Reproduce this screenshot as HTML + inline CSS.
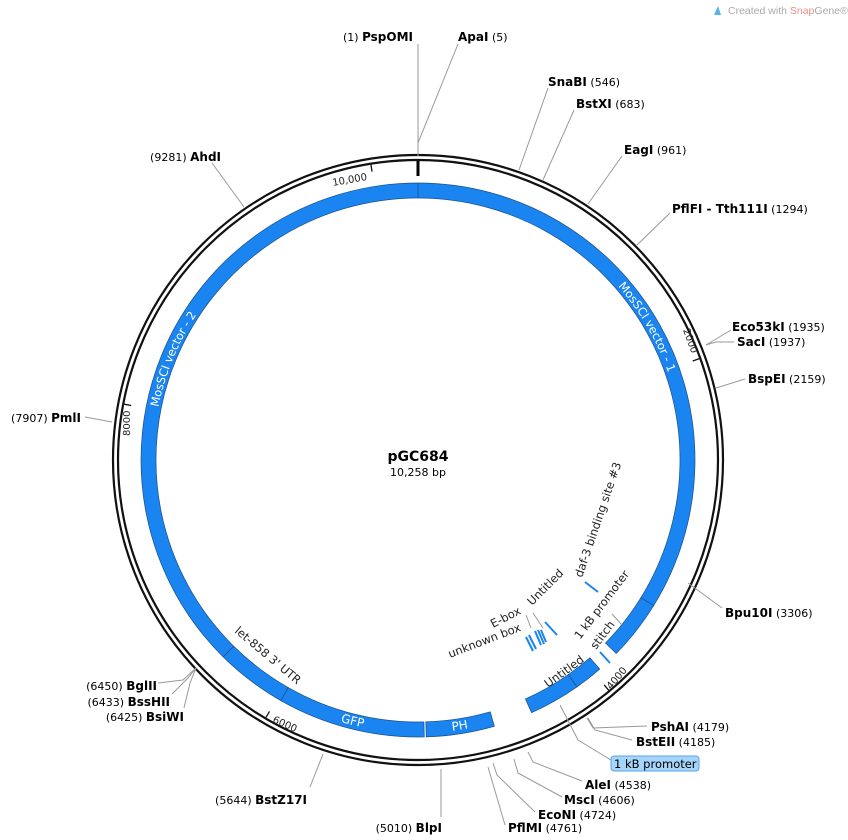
<!DOCTYPE html>
<html><head><meta charset="utf-8">
<style>
html,body{margin:0;padding:0;background:#fff;}
svg{display:block;font-family:"DejaVu Sans","Liberation Sans",sans-serif;}
.lb{font-size:11px;fill:#000;}
.b{font-weight:bold;font-size:12px;}
.ld{stroke:#999;stroke-width:1;fill:none;}
.wt{font-size:11.5px;fill:#fff;}
.ft{font-size:11.5px;fill:#222;}
.tk{font-size:10px;fill:#222;}
</style></head>
<body>
<svg id="s" width="848" height="840" viewBox="0 0 848 840" xmlns="http://www.w3.org/2000/svg">
<defs>
<path id="pMV1"/><path id="pMV2"/><path id="pGFP"/><path id="pPH"/>
</defs>
<g id="g"></g>

<!-- header -->
<path d="M714 15 L718 6 L721 15 Z" fill="#5bb0e8"/>
<text x="728" y="14" style="font-family:'Liberation Sans',sans-serif;font-size:10.5px;fill:#aaa">Created with <tspan fill="#e8908c">Snap</tspan>Gene®</text>

<!-- center -->
<text x="418" y="461" text-anchor="middle" style="font-size:14px;font-weight:bold">pGC684</text>
<text x="418" y="476" text-anchor="middle" style="font-size:11px">10,258 bp</text>

<!-- feature texts along arcs -->
<text class="wt"><textPath href="#pMV1">MosSCI vector - 1</textPath></text>
<text class="wt"><textPath href="#pMV2">MosSCI vector - 2</textPath></text>
<text class="wt" style="font-size:12px"><textPath href="#pGFP">GFP</textPath></text>
<text class="wt" style="font-size:12px"><textPath href="#pPH">PH</textPath></text>

<!-- inner feature labels -->
<text class="ft" transform="translate(234,632) rotate(40)">let-858 3' UTR</text>
<text class="ft" transform="translate(582,578) rotate(-71)">daf-3 binding site #3</text>
<text class="ft" transform="translate(532,606) rotate(-45)">Untitled</text>
<text class="ft" transform="translate(493,628) rotate(-27)">E-box</text>
<text class="ft" transform="translate(450,658) rotate(-21)">unknown box</text>
<text class="ft" transform="translate(580,640) rotate(-53)">1 kB promoter</text>
<text class="ft" transform="translate(596,650) rotate(-53)">stitch</text>
<text class="ft" transform="translate(548,688) rotate(-36)">Untitled</text>

<!-- small blue features -->
<g stroke="#1a84f0" stroke-width="2">
<line x1="585" y1="582" x2="598" y2="592"/>
<line x1="545" y1="622" x2="557" y2="635"/>
<line x1="526" y1="637" x2="533" y2="651"/>
<line x1="529" y1="635" x2="536" y2="649"/>
<line x1="535" y1="631" x2="541" y2="645"/>
<line x1="538" y1="630" x2="544" y2="644"/>
<line x1="541" y1="630" x2="546" y2="642"/>
<line x1="600" y1="652" x2="610" y2="663"/>
</g>
<g class="ld">
<line x1="533" y1="613" x2="543" y2="628"/>
<line x1="526" y1="615" x2="531" y2="628"/>
<line x1="612" y1="614" x2="622" y2="625"/>
</g>

<!-- tick labels -->
<text class="tk" transform="translate(333,186) rotate(-10)">10,000</text>
<text class="tk" transform="translate(683,330) rotate(70)">2000</text>
<text class="tk" transform="translate(611,690) rotate(-50)">4000</text>
<text class="tk" transform="translate(272,722) rotate(24)">6000</text>
<text class="tk" transform="translate(130,436) rotate(-90)">8000</text>

<!-- leader lines -->
<g class="ld">
<line x1="418" y1="44" x2="418" y2="156"/>
<polyline points="458,44 418,143 418,156"/>
<line x1="548" y1="88" x2="519" y2="170"/>
<line x1="574" y1="110" x2="543" y2="180"/>
<line x1="622" y1="156" x2="588" y2="204"/>
<line x1="670" y1="213" x2="637" y2="245"/>
<polyline points="731,330 716,339 706,345"/>
<polyline points="734,342 716,342 706,345"/>
<line x1="745" y1="379" x2="716" y2="388"/>
<line x1="722" y1="608" x2="688" y2="583"/>
<polyline points="647,726 593,728 587,718"/>
<polyline points="632,740 595,730 588,718"/>
<polyline points="611,760 578,740 560,705"/>
<polyline points="582,781 533,762 528,752"/>
<polyline points="562,797 518,773 514,759"/>
<polyline points="535,812 497,775 493,763"/>
<line x1="505" y1="825" x2="488" y2="767"/>
<line x1="441" y1="817" x2="441" y2="769"/>
<line x1="310" y1="787" x2="323" y2="754"/>
<polyline points="158,683 183,680 196,668"/>
<polyline points="172,694 188,678 196,668"/>
<polyline points="184,708 190,683 196,668"/>
<line x1="85" y1="417" x2="112" y2="422"/>
<line x1="212" y1="163" x2="244" y2="207"/>
</g>

<!-- site labels -->
<text class="lb" x="343" y="41">(1) <tspan class="b">PspOMI</tspan></text>
<text class="lb" x="458" y="41"><tspan class="b">ApaI</tspan> (5)</text>
<text class="lb" x="548" y="86"><tspan class="b">SnaBI</tspan> (546)</text>
<text class="lb" x="576" y="108"><tspan class="b">BstXI</tspan> (683)</text>
<text class="lb" x="624" y="154"><tspan class="b">EagI</tspan> (961)</text>
<text class="lb" x="672" y="213"><tspan class="b">PflFI - Tth111I</tspan> (1294)</text>
<text class="lb" x="732" y="331"><tspan class="b">Eco53kI</tspan> (1935)</text>
<text class="lb" x="737" y="346"><tspan class="b">SacI</tspan> (1937)</text>
<text class="lb" x="748" y="383"><tspan class="b">BspEI</tspan> (2159)</text>
<text class="lb" x="725" y="617"><tspan class="b">Bpu10I</tspan> (3306)</text>
<text class="lb" x="651" y="731"><tspan class="b">PshAI</tspan> (4179)</text>
<text class="lb" x="636" y="746"><tspan class="b">BstEII</tspan> (4185)</text>
<rect x="611" y="756" width="88" height="15" rx="3" fill="#a6d4fa" stroke="#5aa6e6"/>
<text class="lb" x="614" y="768" style="font-size:11.5px">1 kB promoter</text>
<text class="lb" x="585" y="789"><tspan class="b">AleI</tspan> (4538)</text>
<text class="lb" x="564" y="804"><tspan class="b">MscI</tspan> (4606)</text>
<text class="lb" x="538" y="819"><tspan class="b">EcoNI</tspan> (4724)</text>
<text class="lb" x="508" y="832"><tspan class="b">PflMI</tspan> (4761)</text>
<text class="lb" x="442" y="832" text-anchor="end">(5010) <tspan class="b">BlpI</tspan></text>
<text class="lb" x="307" y="804" text-anchor="end">(5644) <tspan class="b">BstZ17I</tspan></text>
<text class="lb" x="157" y="690" text-anchor="end">(6450) <tspan class="b">BglII</tspan></text>
<text class="lb" x="170" y="706" text-anchor="end">(6433) <tspan class="b">BssHII</tspan></text>
<text class="lb" x="184" y="721" text-anchor="end">(6425) <tspan class="b">BsiWI</tspan></text>
<text class="lb" x="81" y="422" text-anchor="end">(7907) <tspan class="b">PmlI</tspan></text>
<text class="lb" x="221" y="161" text-anchor="end">(9281) <tspan class="b">AhdI</tspan></text>
</svg>
<script>
var cx=418,cy=460,NS="http://www.w3.org/2000/svg";
function pt(a,r){var t=a*Math.PI/180;return [cx+r*Math.sin(t),cy-r*Math.cos(t)];}
function f(p){return p[0].toFixed(2)+" "+p[1].toFixed(2);}
function arc(a1,a2,r){var p1=pt(a1,r),p2=pt(a2,r),l=(a2-a1)>180?1:0;return "M"+f(p1)+" A"+r+" "+r+" 0 "+l+" 1 "+f(p2);}
function arcCCW(a1,a2,r){var p1=pt(a1,r),p2=pt(a2,r),l=(a1-a2)>180?1:0;return "M"+f(p1)+" A"+r+" "+r+" 0 "+l+" 0 "+f(p2);}
var g=document.getElementById("g");
function add(tag,attrs){var e=document.createElementNS(NS,tag);for(var k in attrs)e.setAttribute(k,attrs[k]);g.appendChild(e);return e;}
add("circle",{cx:cx,cy:cy,r:305,fill:"none",stroke:"#111","stroke-width":2.2});
add("circle",{cx:cx,cy:cy,r:300,fill:"none",stroke:"#111","stroke-width":2.2});
var ri=262,ro=277;
function sector(a1,a2){var l=(a2-a1)>180?1:0;
 return "M"+f(pt(a1,ro))+" A"+ro+" "+ro+" 0 "+l+" 1 "+f(pt(a2,ro))+" L"+f(pt(a2,ri))+" A"+ri+" "+ri+" 0 "+l+" 0 "+f(pt(a1,ri))+" Z";}
var feats=[[0,121.7],[121.7,134.3],[139,145],[145,155.8],[164,178.3],[178.7,209.7],[209.7,224.7],[224.7,360]];
feats.forEach(function(s){add("path",{d:sector(s[0],s[1]-(s[1]==360?0.001:0)),fill:"#1a84f0",stroke:"#1d4f8a","stroke-width":0.7});});
var N=10258;
[2000,4000,6000,8000,10000].forEach(function(b){var a=b/N*360;var p1=pt(a,299),p2=pt(a,292);
 add("line",{x1:p1[0],y1:p1[1],x2:p2[0],y2:p2[1],stroke:"#111","stroke-width":1.3});});
var o1=pt(0,299),o2=pt(0,284);
add("line",{x1:o1[0],y1:o1[1],x2:o2[0],y2:o2[1],stroke:"#000","stroke-width":3});
document.getElementById("pMV1").setAttribute("d",arc(49,110,265));
document.getElementById("pMV2").setAttribute("d",arc(281.5,340,265));
document.getElementById("pGFP").setAttribute("d",arcCCW(196.5,170,273));
document.getElementById("pPH").setAttribute("d",arcCCW(172.8,150,273));
</script>
</body></html>
